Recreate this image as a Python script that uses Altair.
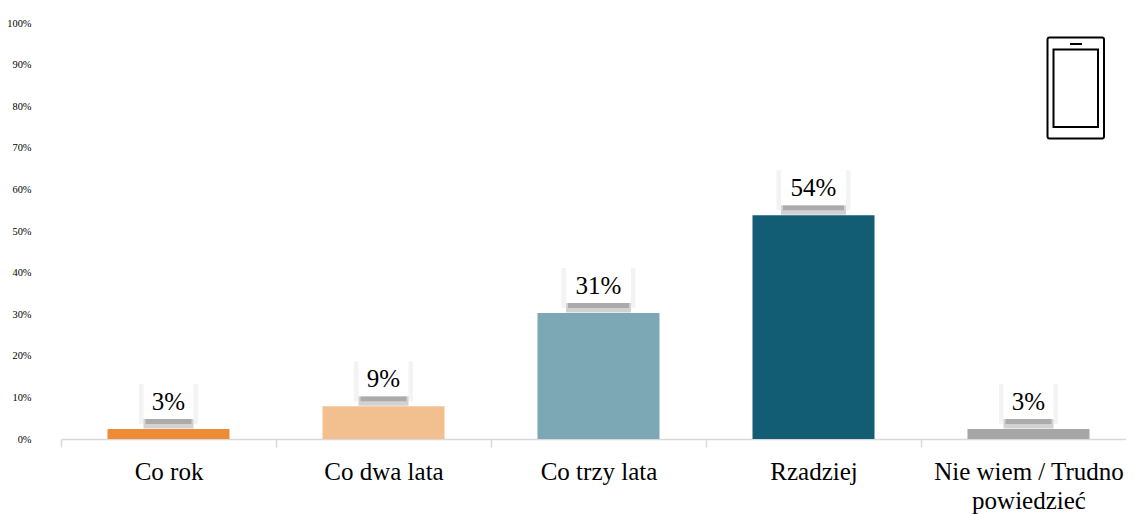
import altair as alt
import pandas as pd

categories = ["Co rok", "Co dwa lata", "Co trzy lata", "Rzadziej", "Nie wiem / Trudno|powiedzieć"]
values = [2.4, 7.9, 30.3, 53.8, 2.4]
labels = ["3%", "9%", "31%", "54%", "3%"]
colors = ["#ED8B37", "#F2C08E", "#7CA7B5", "#125D74", "#A6A6A6"]
tick_values = list(range(0, 101, 10))
box_widths = [50, 50, 65, 65, 50]

PX = 416 / 100  # pixels per percentage point
df = pd.DataFrame({"cat": categories, "v": values, "label": labels, "color": colors, "w": box_widths})
df["halo_w"] = df.w + 9
df["dark_w"] = df.w - 4
df["b0"] = df.v + 0.5 / PX
df["b1"] = df.v + 5 / PX
df["b2"] = df.v + 10 / PX
df["b3"] = df.v + 45 / PX
df["mid"] = df.v + 27 / PX

FONT = "Liberation Serif"
x = alt.X(
    "cat:N", sort=categories, title=None,
    scale=alt.Scale(paddingInner=0, paddingOuter=0, range=[0, 1075]),
    axis=alt.Axis(
        labelAngle=0, labelFont=FONT, labelFontSize=25, labelColor="#000000",
        labelPadding=12, labelLineHeight=29, labelLimit=300, labelOverlap=False,
        tickBand="extent", tickColor="#D9D9D9", tickSize=8, tickWidth=1.5,
        domainColor="#D9D9D9", domainWidth=1.5,
        labelExpr="split(datum.label, '|')",
    ),
)
y_axis = alt.Axis(
    values=tick_values, labelExpr="datum.value + '%'",
    grid=False, domain=False, ticks=False, labelPadding=30,
    labelFont=FONT, labelFontSize=10.4, labelColor="#000000",
)
y_scale = alt.Scale(domain=[0, 100], nice=False)


def yy(field):
    return alt.Y(field, title=None, scale=y_scale, axis=y_axis)


base = alt.Chart(df)
halo = base.mark_bar(color="#F3F3F3").encode(
    x=x, y=yy("b1:Q"), y2="b3:Q", size=alt.Size("halo_w:Q", scale=None, legend=None))
shade = base.mark_bar(color="#D2D2D2").encode(
    x=x, y=yy("b0:Q"), y2="b2:Q", size=alt.Size("w:Q", scale=None, legend=None))
dark = base.mark_bar(color="#ABABAB").encode(
    x=x, y=yy("b1:Q"), y2="b2:Q", size=alt.Size("dark_w:Q", scale=None, legend=None))
box = base.mark_bar(color="#FFFFFF").encode(
    x=x, y=yy("b2:Q"), y2="b3:Q", size=alt.Size("w:Q", scale=None, legend=None))
bars = base.mark_bar(width=122).encode(
    x=x, y=yy("v:Q"), color=alt.Color("color:N", scale=None, legend=None))
text = base.mark_text(font=FONT, fontSize=25, color="#000000", baseline="middle").encode(
    x=x, y=yy("mid:Q"), text="label:N")


def frame(x0, x1, y0, y1, radius=0):
    return alt.Chart(df.head(1)).mark_rect(
        fill="#FFFFFF", stroke="#000000", strokeWidth=2, cornerRadius=radius
    ).encode(x=alt.value(x0 - 61), x2=alt.value(x1 - 61), y=alt.value(y0 - 23), y2=alt.value(y1 - 23))


outer = frame(1047.5, 1104, 37.5, 138.5, 2)
inner = frame(1053.5, 1098, 49.5, 127)
speaker = alt.Chart(df.head(1)).mark_rule(color="#000000", strokeWidth=2).encode(
    x=alt.value(1070 - 61), x2=alt.value(1082 - 61), y=alt.value(44 - 23))

chart = alt.layer(halo, shade, dark, box, bars, text, outer, inner, speaker).properties(
    width=1065, height=416,
    autosize=alt.AutoSizeParams(type="none"),
    padding={"left": 53, "top": 15, "right": 0, "bottom": 75},
).configure_view(stroke=None)

chart.save("out.html", embed_options={"renderer": "svg", "actions": False})
